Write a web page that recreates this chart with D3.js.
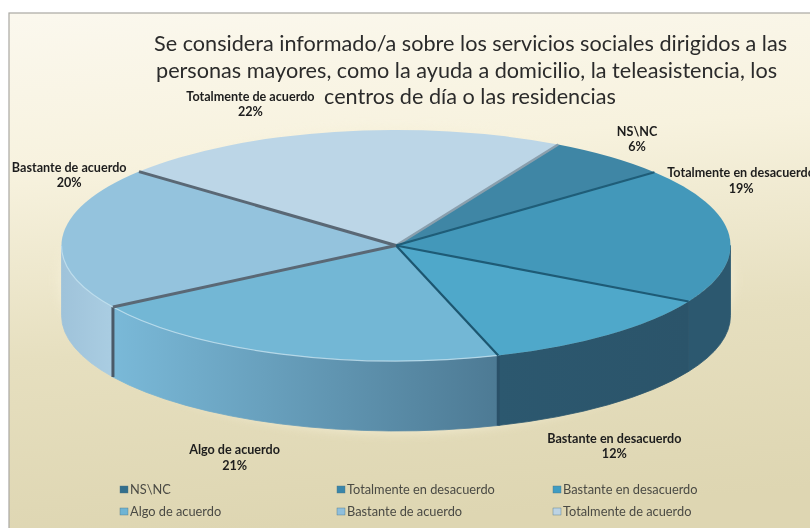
<!DOCTYPE html>
<html><head><meta charset="utf-8">
<script src="https://cdnjs.cloudflare.com/ajax/libs/d3/7.8.5/d3.min.js"></script>
<style>html,body{margin:0;padding:0;background:#fff;overflow:hidden}svg{display:block;filter:blur(.45px)}text{font-family:Lato,"Open Sans",sans-serif}</style>
</head><body><svg id="c" width="810" height="528"></svg>
<script>
const categories = ["NS\\NC","Totalmente en desacuerdo","Bastante en desacuerdo","Algo de acuerdo","Bastante de acuerdo","Totalmente de acuerdo"];
const seriesValues = [6,19,12,21,20,22];
const topColors = ["#3f86a5","#4398ba","#4fa8ca","#73b7d5","#94c3dd","#bcd6e7"];
const sideFrom = ["#2f5f78","#2c586f","#2b546a","#7ab9d8","#aacde2","#bcd6e7"];
const sideTo = ["#2f5f78","#2c586f","#2c586f","#4d7a94","#9fc3da","#bcd6e7"];
const edgeColors = ["#8a9fad","#1f5d78","#1e5b76","#1c5670","#5a6875","#5a6875"];
const legendColors = ["#336f8c","#3a86aa","#3f9cc2","#6fb4d4","#8fbfdc","#bcd3e4"];
const titleLines = ["Se considera informado/a sobre los servicios sociales dirigidos a las","personas mayores, como la ayuda a domicilio, la teleasistencia, los","centros de día o las residencias"];

const svg = d3.select("#c");
const defs = svg.append("defs");
const bg = defs.append("linearGradient").attr("id","bg").attr("x1",0).attr("y1",0).attr("x2",0.12).attr("y2",1);
[[0,"#fbf8ee"],[0.3,"#f7f2de"],[0.65,"#e6dfbf"],[1,"#ded6b2"]].forEach(s=>bg.append("stop").attr("offset",s[0]).attr("stop-color",s[1]));
svg.append("rect").attr("x",9).attr("y",13).attr("width",810).attr("height",530).attr("fill","url(#bg)").attr("stroke","#aaa8a2").attr("stroke-width",1.2);

const cx=396, cy=245.5, rx=334.5, ry=115.5, depth=70;
const px=d3.scaleLinear().domain([-1,1]).range([cx-rx,cx+rx]);
const py=d3.scaleLinear().domain([-1,1]).range([cy-ry,cy+ry]);
const rad=d=>d*Math.PI/180;
const pt=(a,dy=0)=>[px(Math.sin(a)),py(-Math.cos(a))+dy];
const arcs=d3.pie().sort(null).value(d=>d).startAngle(rad(29)).endAngle(rad(389))(seriesValues);

const halo=defs.append("filter").attr("id","halo").attr("x","-10%").attr("y","-20%").attr("width","120%").attr("height","140%");
halo.append("feGaussianBlur").attr("stdDeviation",5);
svg.append("ellipse").attr("cx",cx).attr("cy",cy+depth/2).attr("rx",rx+4).attr("ry",ry+depth/2+3).attr("fill","#f6f0d8").attr("opacity",.6).attr("filter","url(#halo)");

function ell(a0,a1,dy,sweep){const p=pt(a1,dy);return `A${rx},${ry} 0 ${Math.abs(a1-a0)>Math.PI?1:0} ${sweep} ${p[0]},${p[1]}`;}

// side walls (only the front half of the rim is visible)
arcs.forEach((d,i)=>{
  const a0=Math.max(d.startAngle,Math.PI/2), a1=Math.min(d.endAngle,Math.PI*1.5);
  if(a1<=a0) return;
  const g=defs.append("linearGradient").attr("id","s"+i);
  g.append("stop").attr("offset",0).attr("stop-color",i===3?sideFrom[i]:sideTo[i]);
  g.append("stop").attr("offset",1).attr("stop-color",i===3?sideTo[i]:sideFrom[i]);
  const p0=pt(a0), p1b=pt(a1,depth);
  svg.append("path").attr("fill",`url(#s${i})`).attr("stroke",`url(#s${i})`).attr("stroke-width",.8)
    .attr("d",`M${p0} ${ell(a0,a1,0,1)} L${p1b} ${ell(a1,a0,depth,0)} Z`);
});
// vertical cracks where slices meet on the rim
arcs.forEach((d,i)=>{
  const a=d.endAngle;
  if(i>=2 && a>Math.PI/2 && a<Math.PI*1.5){
    const p=pt(a), q=pt(a,depth);
    svg.append("line").attr("x1",p[0]).attr("y1",p[1]).attr("x2",q[0]).attr("y2",q[1])
      .attr("stroke",i===2?"#2a5068":"#4a5a68").attr("stroke-width",3);
  }
});
// top faces
arcs.forEach((d,i)=>{
  const p0=pt(d.startAngle);
  svg.append("path").attr("fill",topColors[i]).attr("d",`M${cx},${cy} L${p0} ${ell(d.startAngle,d.endAngle,0,1)} Z`);
});
// bevel highlight along the front rim
[3,4].forEach(i=>{
  const d=arcs[i], a0=d.startAngle, a1=Math.min(d.endAngle,Math.PI*1.5);
  svg.append("path").attr("fill","none").attr("stroke","#c4e2f0").attr("stroke-width",1.2).attr("opacity",.8)
    .attr("d",`M${pt(a0)} ${ell(a0,a1,0,1)}`);
});
// spokes
arcs.forEach((d,i)=>{
  const p=pt(d.startAngle);
  svg.append("line").attr("x1",cx).attr("y1",cy).attr("x2",p[0]).attr("y2",p[1])
    .attr("stroke",edgeColors[i]).attr("stroke-width",i>=4?3:(i===0?2.5:2.2));
});

// title
svg.append("g").selectAll("text").data(titleLines).join("text")
  .attr("x",(d,i)=>[154,156,324][i]).attr("y",(d,i)=>[51,78,104][i])
  .attr("fill","#2b2b2b").attr("font-size",21.65).text(d=>d);

// data labels, placed off the projected slice midpoints
const labelNudge=[[27,-21],[12,-58],[6,108],[-47,100],[7,-66],[-84,-31]];
arcs.forEach((d,i)=>{
  const p=pt((d.startAngle+d.endAngle)/2), x=p[0]+labelNudge[i][0], y=p[1]+labelNudge[i][1];
  const t=svg.append("text").attr("text-anchor","middle").attr("font-weight",700).attr("font-size",12.6).attr("fill","#1d1d1d").attr("x",x).attr("y",y);
  t.append("tspan").attr("x",x).text(categories[i]);
  t.append("tspan").attr("x",x).attr("dy",15.5).text(seriesValues[i]+"%");
});

// legend
const lxs=i=>[120,337,553][i%3];
const ly=i=>[490,512][Math.floor(i/3)];
categories.forEach((c,i)=>{
  svg.append("rect").attr("x",lxs(i)).attr("y",ly(i)-4).attr("width",8).attr("height",7).attr("fill",legendColors[i]).attr("stroke","#4c7284").attr("stroke-width",.4);
  svg.append("text").attr("x",lxs(i)+10).attr("y",ly(i)+4).attr("font-size",12.8).attr("fill","#4a4a44").text(c);
});
</script></body></html>
